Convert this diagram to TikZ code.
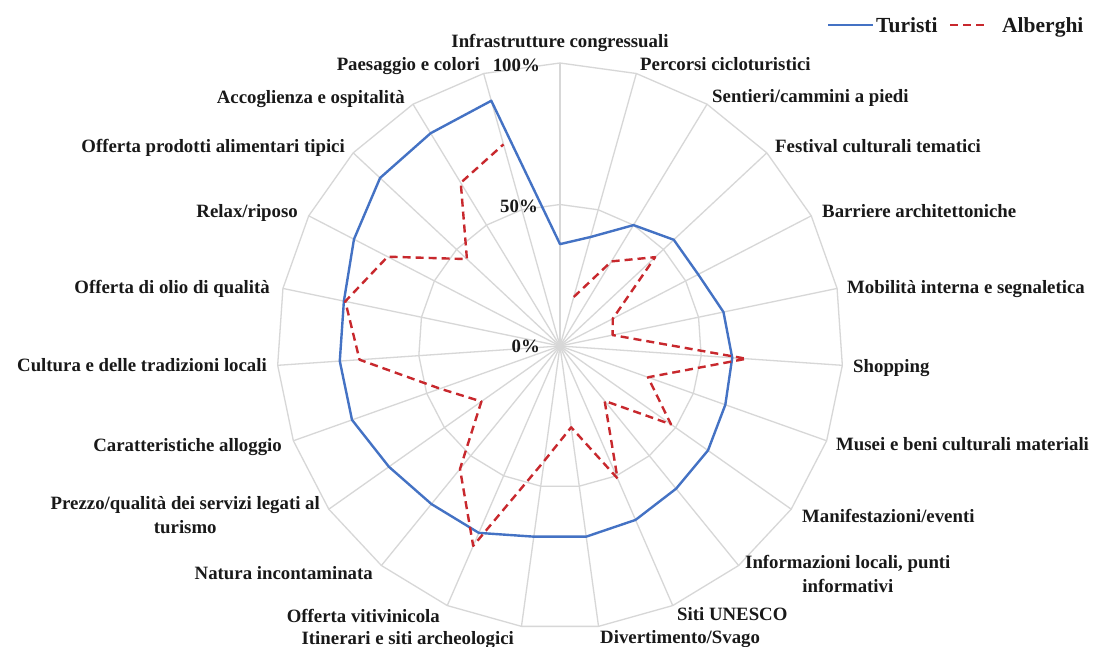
\documentclass[tikz,border=0pt]{standalone}
\usepackage{fontspec}
\setmainfont{Liberation Serif}
\definecolor{tblue}{RGB}{68,114,196}
\definecolor{ared}{RGB}{200,40,45}
\definecolor{gridc}{RGB}{215,215,215}
\begin{document}
\begin{tikzpicture}[x=1pt,y=-1pt,
  lbl/.style={font=\fontsize{18.8}{24}\selectfont\bfseries, inner sep=0pt, text=black!90},
  leg/.style={font=\fontsize{21.5}{24}\selectfont\bfseries, inner sep=0pt, text=black!90},
  gridline/.style={draw=gridc, line width=1.3pt, line join=round},
  tur/.style={draw=tblue, line width=2.4pt, line join=round},
  alb/.style={draw=ared, line width=2.4pt, dash pattern=on 8pt off 5pt, line join=round}]
\useasboundingbox (0,0) rectangle (1094,646);
\fill[white] (0,0) rectangle (1094,646);
\coordinate (C) at (560,346);
\foreach \k in {0,...,22} {
  \pgfmathsetmacro{\a}{\k*360/23}
  \coordinate (g\k) at ({560+283*sin(\a)},{346-283*cos(\a)});
  \coordinate (h\k) at ({560+141.5*sin(\a)},{346-141.5*cos(\a)});
}
% grid
\draw[gridline] (g0) \foreach \k in {1,...,22}{ -- (g\k)} -- cycle;
\draw[gridline] (h0) \foreach \k in {1,...,22}{ -- (h\k)} -- cycle;
\foreach \k in {0,...,22} \draw[gridline] (C) -- (g\k);
% data
\foreach \v [count=\k from 0] in {36,40,50,55,55,59,61,62,64,65,67,68,68,72,72,74,78,78,78,82,87,88,90} {
  \pgfmathsetmacro{\a}{\k*360/23}
  \coordinate (t\k) at ({560+2.83*\v*sin(\a)},{346-2.83*\v*cos(\a)});
}
\foreach \v [count=\k from 1] in {18,35,46,21,19,66,33,48,25,51,29,41,77,56,34,45,71,77.5,68.6,45,67.5,74} {
  \pgfmathsetmacro{\a}{\k*360/23}
  \coordinate (a\k) at ({560+2.83*\v*sin(\a)},{346-2.83*\v*cos(\a)});
}
\draw[tur] (t0) \foreach \k in {1,...,22}{ -- (t\k)} -- cycle;
\draw[alb] (a1) \foreach \k in {2,...,22}{ -- (a\k)};
% value labels
\node[lbl, anchor=base east] (v100) at (540,71) {100\%};
\node[lbl, anchor=base east] (v50) at (538,212) {50\%};
\node[lbl, anchor=base east] (v0) at (540,352) {0\%};
% category labels
\node[lbl, anchor=base] (l0) at (560,47) {Infrastrutture congressuali};
\node[lbl, anchor=base west] (l1) at (640,70) {Percorsi cicloturistici};
\node[lbl, anchor=base west] (l2) at (712,102) {Sentieri/cammini a piedi};
\node[lbl, anchor=base west] (l3) at (775,152) {Festival culturali tematici};
\node[lbl, anchor=base west] (l4) at (822,217) {Barriere architettoniche};
\node[lbl, anchor=base west] (l5) at (847,293) {Mobilità interna e segnaletica};
\node[lbl, anchor=base west] (l6) at (853,372) {Shopping};
\node[lbl, anchor=base west] (l7) at (836,450) {Musei e beni culturali materiali};
\node[lbl, anchor=base west] (l8) at (802,522) {Manifestazioni/eventi};
\node[lbl, anchor=west, align=center] (l9) at (745,573.5) {Informazioni locali, punti\\informativi};
\node[lbl, anchor=base west] (l10) at (677,620) {Siti UNESCO};
\node[lbl, anchor=base west] (l11) at (600,643) {Divertimento/Svago};
\node[lbl, anchor=base east] (l12) at (514,644) {Itinerari e siti archeologici};
\node[lbl, anchor=base east] (l13) at (440,622) {Offerta vitivinicola};
\node[lbl, anchor=base east] (l14) at (373,579) {Natura incontaminata};
\node[lbl, anchor=east, align=center] (l15) at (320,515.5) {Prezzo/qualità dei servizi legati al\\turismo};
\node[lbl, anchor=base east] (l16) at (282,451) {Caratteristiche alloggio};
\node[lbl, anchor=base east] (l17) at (267,371) {Cultura e delle tradizioni locali};
\node[lbl, anchor=base east] (l18) at (270,293) {Offerta di olio di qualità};
\node[lbl, anchor=base east] (l19) at (298,217) {Relax/riposo};
\node[lbl, anchor=base east] (l20) at (345,152) {Offerta prodotti alimentari tipici};
\node[lbl, anchor=base east] (l21) at (405,103) {Accoglienza e ospitalità};
\node[lbl, anchor=base east] (l22) at (480,70) {Paesaggio e colori};
% legend
\coordinate (lt1) at (828,25);
\coordinate (lt2) at (873,25);
\draw[tur] (lt1) -- (lt2);
\node[leg, anchor=base west] (legt) at (876,32) {Turisti};
\coordinate (la1) at (950,25);
\coordinate (la2) at (987,25);
\draw[alb] (la1) -- (la2);
\node[leg, anchor=base west] (lega) at (1002,32) {Alberghi};
\end{tikzpicture}
\end{document}
